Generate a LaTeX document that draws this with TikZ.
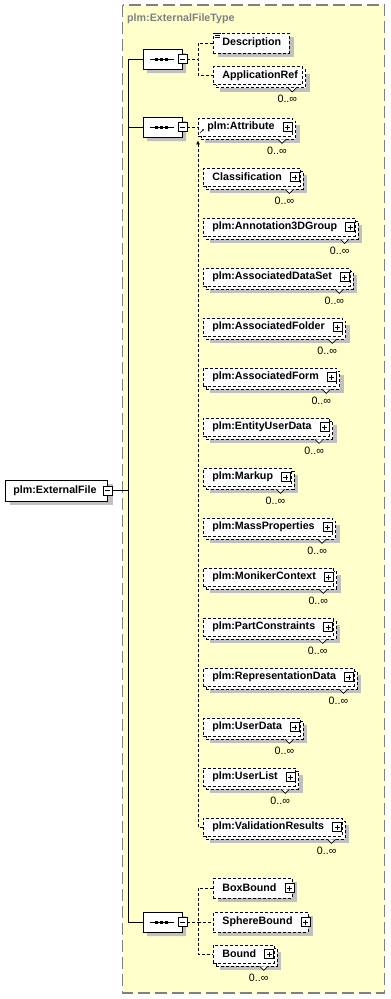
\documentclass[tikz,border=0pt]{standalone}
\usepackage{fontspec}
\setmainfont{Liberation Sans}
\usetikzlibrary{calc,arrows.meta,shapes.misc}
\definecolor{bgyellow}{RGB}{255,255,204}
\definecolor{shadowgray}{RGB}{192,192,192}
\definecolor{bordergray}{RGB}{128,128,128}
\newcommand\padl[1]{\rule{#1}{0pt}}
\newcommand\xsdnotch[1]{\draw[line width=0.7pt, fill=white] ($(#1.south east)+(-15,3)$) -- ++(4,4) -- ++(4,-4);}
\newcommand\xsdmember[3]{%
  \node[multibox] (#1) at (203,#2) {\padl{9pt}#3\padl{18pt}};
  \node[plusbox] (#1p) at ($(#1.east)+(-5.5,0)$) {};
  \xsdnotch{#1}
  \node[mult] (#1m) at ($(#1.south east)+(-6,14)$) {0..∞};}
\newcommand\xsdseq[1]{%
  \draw[line width=0.8pt] ($(#1.center)+(-13,0)$) -- ($(#1.center)+(11,0)$);
  \foreach \dx in {-6,-1,4} {\fill ($(#1.center)+(\dx-1.5,-1.5)$) rectangle ++(3,3);}}
\begin{document}
\begin{tikzpicture}[x=1pt,y=-1pt,
  every node/.style={font=\fontsize{10.7}{12}\selectfont\bfseries},
  dsh/.style={dash pattern=on 3pt off 2pt, line width=0.8pt},
  conn/.style={dsh},
  trunk/.style={line width=1pt},
  rootbox/.style={draw, solid, line width=0.8pt, fill=white, inner sep=0pt, minimum height=21pt, anchor=west,
     preaction={draw=none, fill=shadowgray, transform canvas={shift={(5pt,-4pt)}}}},
  singlebox/.style={draw, dsh, fill=white, inner sep=0pt, minimum height=20pt, anchor=west,
     preaction={draw=none, fill=shadowgray, transform canvas={shift={(5pt,-4pt)}}}},
  multibox/.style={draw, dsh, fill=white, inner sep=0pt, minimum height=18pt, anchor=west,
     preaction={draw=none, fill=shadowgray, transform canvas={shift={(7pt,-7pt)}}},
     preaction={draw, dsh, fill=white, transform canvas={shift={(3pt,-3pt)}}}},
  seqbox/.style={chamfered rectangle, chamfered rectangle xsep=5pt, chamfered rectangle ysep=5pt,
     draw, solid, line width=0.8pt, fill=white, inner sep=0pt, minimum width=39pt, minimum height=20pt,
     preaction={draw=none, fill=shadowgray, transform canvas={shift={(4pt,-4pt)}}}},
  plusbox/.style={draw, solid, line width=0.7pt, fill=white, inner sep=0pt, minimum size=9pt,
     path picture={\draw[line width=0.7pt] (path picture bounding box.center) ++(-2.5,0) -- ++(5,0)
        (path picture bounding box.center) ++(0,-2.5) -- ++(0,5);}},
  minusbox/.style={draw, solid, line width=0.7pt, fill=white, inner sep=0pt, minimum size=9pt,
     path picture={\draw[line width=0.7pt] (path picture bounding box.center) ++(-2.5,0) -- ++(5,0);}},
  mult/.style={font=\fontsize{10.7}{12}\selectfont, anchor=east, inner sep=0pt},
]
\useasboundingbox (0,0) rectangle (391,999);
% background type box
\fill[bgyellow] (122.5,5) rectangle (384.5,993);
\draw[bordergray, line width=1.3pt, dash pattern=on 12pt off 5pt] (122.5,5) rectangle (384.5,993);
\node[anchor=west, inner sep=0pt, text=bordergray] (title) at (127,19) {plm:ExternalFileType};

% trunk coordinates
\coordinate (t1) at (128,59);
\coordinate (t2) at (128,127);
\coordinate (t3) at (128,922);
\coordinate (b1) at (198,59);
\coordinate (b3) at (198,922);

% root
\node[rootbox] (root) at (5,490.5) {\padl{8pt}plm:ExternalFile\padl{11pt}};
\node[minusbox] (rootm) at ($(root.east)+(-0.5,0)$) {};

% compositors
\node[seqbox] (s1) at (162.5,59) {};
\node[seqbox] (s2) at (162.5,127) {};
\node[seqbox] (s3) at (162.5,922) {};
\xsdseq{s1}
\xsdseq{s2}
\xsdseq{s3}
\node[minusbox] (m1) at (s1.east) {};
\node[minusbox] (m2) at (s2.east) {};
\node[minusbox] (m3) at (s3.east) {};

\draw[trunk] (rootm.east) -- (rootm.east -| t1);
\draw[trunk] (t1) -- (t3);
\draw[trunk] (t1) -- (s1.west);
\draw[trunk] (t2) -- (s2.west);
\draw[trunk] (t3) -- (s3.west);

% first sequence
\node[singlebox] (desc) at (213,43) {\padl{9pt}Description\padl{8pt}};
\foreach \dy/\len in {0.6/6.5,2.6/5.5,4.6/5.5} {\draw[solid, line width=0.6pt] ($(desc.north west)+(1.5,\dy)$) -- ++(\len,0);}
\node[multibox] (appref) at (213,75.5) {\padl{9pt}ApplicationRef\padl{5pt}};
\xsdnotch{appref}
\node[mult] (apprefm) at ($(appref.south east)+(-6,14)$) {0..∞};
\draw[conn] (m1.east) -- (b1);
\draw[conn] (desc.west) -| (b1) |- (appref.west);

% second sequence: substitution group
\node[multibox] (attr) at (198,127) {\padl{9pt}plm:Attribute\padl{18pt}};
\node[plusbox] (attrp) at ($(attr.east)+(-5.5,0)$) {};
\xsdnotch{attr}
\node[mult] (attrm) at ($(attr.south east)+(-6,14)$) {0..∞};
\draw[solid, line width=0.6pt, -{Latex[length=2.2pt,width=2.2pt]}] ($(attr.west)+(2,6)$) -- ++(4,-4);
\draw[conn] (m2.east) -- (attr.west);

\xsdmember{c1}{177}{Classification}
\xsdmember{c2}{227}{plm:Annotation3DGroup}
\xsdmember{c3}{277}{plm:AssociatedDataSet}
\xsdmember{c4}{327}{plm:AssociatedFolder}
\xsdmember{c5}{377}{plm:AssociatedForm}
\xsdmember{c6}{427}{plm:EntityUserData}
\xsdmember{c7}{477}{plm:Markup}
\xsdmember{c8}{527}{plm:MassProperties}
\xsdmember{c9}{577}{plm:MonikerContext}
\xsdmember{c10}{627}{plm:PartConstraints}
\xsdmember{c11}{677}{plm:RepresentationData}
\xsdmember{c12}{727}{plm:UserData}
\xsdmember{c13}{777}{plm:UserList}
\xsdmember{c14}{827}{plm:ValidationResults}
\draw[conn, -{Latex[length=4pt,width=4pt]}] (c14.west) -| ($(attr.south west)+(0,4)$);

% third sequence
\node[singlebox] (boxb) at (213,888) {\padl{9pt}BoxBound\padl{15.5pt}};
\node[plusbox] (boxbp) at ($(boxb.east)+(-3,0)$) {};
\node[singlebox] (sphb) at (213,922) {\padl{9pt}SphereBound\padl{15.5pt}};
\node[plusbox] (sphbp) at ($(sphb.east)+(-3,0)$) {};
\node[multibox] (bound) at (213,954) {\padl{9pt}Bound\padl{18pt}};
\node[plusbox] (boundp) at ($(bound.east)+(-5.5,0)$) {};
\xsdnotch{bound}
\node[mult] (boundm) at ($(bound.south east)+(-6,14)$) {0..∞};
\draw[conn] (m3.east) -- (b3);
\draw[conn] (boxb.west) -| (b3) |- (bound.west);
\draw[conn] (b3) -- (sphb.west);
\end{tikzpicture}
\end{document}
